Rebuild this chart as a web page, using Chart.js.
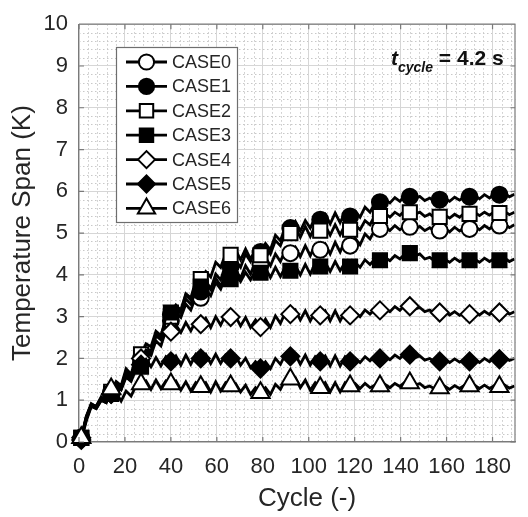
<!DOCTYPE html>
<html>
<head>
<meta charset="utf-8">
<script src="https://cdn.jsdelivr.net/npm/chart.js@4"></script>
<style>
  html, body { margin: 0; padding: 0; background: #fff; overflow: hidden; }
  canvas { display: block; }
</style>
</head>
<body>
<canvas id="myChart" width="528" height="517"></canvas>
<script>
// series labels
const caseLabels = ['CASE0', 'CASE1', 'CASE2', 'CASE3', 'CASE4', 'CASE5', 'CASE6'];

// sampling: one value every 13/6 cycle, starting at cycle 1; a marker every 6th point
const cycleStart = 1;
const cycleStep = 13 / 6;
const markerEvery = 6;

// temperature span (K)
const case0 = [
  0.1, 0.6, 0.88, 0.82, 1.02, 0.95,
  1.2, 1.42, 1.32, 1.7, 1.56, 1.95,
  2.0, 2.25, 2.18, 2.55, 2.45, 2.85,
  2.9, 3.1, 2.98, 3.3, 3.16, 3.48,
  3.45, 3.65, 3.5, 3.82, 3.66, 3.98,
  3.95, 4.12, 3.92, 4.22, 4.02, 4.32,
  4.25, 4.42, 4.22, 4.5, 4.32, 4.6,
  4.52, 4.66, 4.44, 4.7, 4.46, 4.72,
  4.6, 4.74, 4.5, 4.78, 4.55, 4.82,
  4.7, 4.88, 4.72, 4.98, 4.86, 5.08,
  5.1, 5.16, 5.06, 5.18, 5.08, 5.17,
  5.15, 5.1, 5.16, 5.06, 5.13, 5.04,
  5.06, 5.12, 5.03, 5.14, 5.05, 5.13,
  5.1, 5.16, 5.08, 5.18, 5.1, 5.2,
  5.18, 5.22, 5.13, 5.2
];
const case1 = [
  0.1, 0.62, 0.92, 0.84, 1.05, 0.98,
  1.2, 1.4, 1.28, 1.62, 1.5, 1.88,
  1.9, 2.2, 2.12, 2.55, 2.45, 2.95,
  3.05, 3.2, 3.08, 3.42, 3.3, 3.62,
  3.6, 3.8, 3.65, 4.02, 3.88, 4.25,
  4.2, 4.35, 4.18, 4.5, 4.32, 4.62,
  4.55, 4.75, 4.6, 4.95, 4.82, 5.15,
  5.12, 5.28, 5.05, 5.3, 5.12, 5.38,
  5.32, 5.45, 5.22, 5.48, 5.25, 5.5,
  5.4, 5.52, 5.38, 5.62, 5.5, 5.72,
  5.74, 5.8, 5.72, 5.85, 5.76, 5.9,
  5.87, 5.82, 5.88, 5.78, 5.84, 5.76,
  5.8, 5.84, 5.76, 5.86, 5.79, 5.88,
  5.87, 5.9, 5.82, 5.92, 5.84, 5.94,
  5.92, 5.96, 5.87, 5.93
];
const case2 = [
  0.1, 0.58, 0.9, 0.86, 1.08, 1.0,
  1.2, 1.45, 1.35, 1.75, 1.62, 2.05,
  2.1, 2.35, 2.28, 2.65, 2.55, 2.95,
  3.0, 3.25, 3.15, 3.55, 3.45, 3.85,
  3.9, 4.08, 3.95, 4.3, 4.18, 4.5,
  4.48, 4.6, 4.36, 4.62, 4.38, 4.6,
  4.47, 4.68, 4.5, 4.82, 4.7, 5.02,
  5.0, 5.14, 4.9, 5.16, 4.92, 5.18,
  5.06, 5.18, 4.95, 5.2, 4.96, 5.2,
  5.08, 5.2, 5.08, 5.3, 5.2, 5.42,
  5.41, 5.47, 5.38, 5.5, 5.42, 5.54,
  5.5, 5.45, 5.5, 5.4, 5.46, 5.36,
  5.39, 5.44, 5.36, 5.45, 5.38, 5.48,
  5.46, 5.5, 5.42, 5.5, 5.43, 5.51,
  5.48, 5.52, 5.44, 5.5
];
const case3 = [
  0.1, 0.55, 0.86, 0.8, 1.0, 0.94,
  1.15, 1.35, 1.25, 1.55, 1.45, 1.75,
  1.8, 2.15, 2.08, 2.6, 2.5, 3.0,
  3.1, 3.28, 3.15, 3.52, 3.4, 3.75,
  3.72, 3.85, 3.68, 3.92, 3.74, 3.98,
  3.9, 4.02, 3.84, 4.06, 3.88, 4.1,
  4.05, 4.16, 3.94, 4.18, 3.96, 4.2,
  4.1, 4.22, 4.0, 4.25, 4.02, 4.28,
  4.2, 4.3, 4.08, 4.32, 4.1, 4.3,
  4.2, 4.3, 4.18, 4.36, 4.25, 4.38,
  4.35, 4.42, 4.34, 4.46, 4.38, 4.5,
  4.52, 4.45, 4.5, 4.38, 4.42, 4.33,
  4.35, 4.38, 4.3, 4.4, 4.32, 4.38,
  4.35, 4.38, 4.3, 4.4, 4.32, 4.39,
  4.35, 4.4, 4.32, 4.38
];
const case4 = [
  0.1, 0.55, 0.88, 0.82, 1.02, 0.96,
  1.15, 1.4, 1.28, 1.65, 1.55, 1.95,
  2.0, 2.2, 2.08, 2.42, 2.3, 2.68,
  2.64, 2.8, 2.62, 2.86, 2.66, 2.9,
  2.82, 2.96, 2.74, 3.0, 2.8, 3.04,
  2.99, 3.0, 2.78, 2.98, 2.74, 2.92,
  2.75, 2.94, 2.74, 3.02, 2.84, 3.1,
  3.06, 3.16, 2.92, 3.14, 2.9, 3.12,
  3.03, 3.14, 2.9, 3.14, 2.9, 3.12,
  3.03, 3.1, 3.0, 3.16, 3.06, 3.18,
  3.15, 3.2, 3.12, 3.24, 3.15, 3.28,
  3.25, 3.18, 3.22, 3.12, 3.16, 3.08,
  3.1, 3.12, 3.04, 3.12, 3.03, 3.1,
  3.06, 3.12, 3.04, 3.13, 3.05, 3.14,
  3.1, 3.15, 3.06, 3.12
];
const case5 = [
  0.05, 0.5, 0.85, 0.8, 1.0, 0.94,
  1.15, 1.38, 1.26, 1.6, 1.48, 1.82,
  1.85, 1.98, 1.8, 2.02, 1.82, 2.04,
  1.93, 2.06, 1.84, 2.08, 1.86, 2.1,
  2.0, 2.1, 1.88, 2.1, 1.88, 2.08,
  2.0, 2.06, 1.84, 2.0, 1.78, 1.92,
  1.76, 1.92, 1.76, 2.0, 1.86, 2.1,
  2.05, 2.1, 1.86, 2.08, 1.84, 2.04,
  1.93, 2.06, 1.82, 2.06, 1.82, 2.04,
  1.93, 2.0, 1.9, 2.04, 1.94, 2.06,
  2.0, 2.05, 1.97, 2.08, 2.0, 2.12,
  2.09, 2.02, 2.06, 1.96, 2.0, 1.92,
  1.93, 1.98, 1.9, 1.99, 1.91, 1.98,
  1.93, 1.98, 1.9, 2.0, 1.92, 2.02,
  1.98, 2.03, 1.95, 2.0
];
const case6 = [
  0.1, 0.55, 0.9, 0.85, 1.05, 1.0,
  1.27, 1.18, 0.98, 1.22, 1.1, 1.35,
  1.39, 1.46, 1.26, 1.48, 1.28, 1.46,
  1.39, 1.46, 1.24, 1.44, 1.22, 1.42,
  1.32, 1.42, 1.2, 1.44, 1.22, 1.42,
  1.34, 1.4, 1.2, 1.36, 1.14, 1.3,
  1.18, 1.3, 1.14, 1.38, 1.26, 1.5,
  1.5, 1.54, 1.3, 1.48, 1.24, 1.42,
  1.3, 1.42, 1.2, 1.42, 1.2, 1.42,
  1.34, 1.4, 1.28, 1.4, 1.3, 1.36,
  1.34, 1.38, 1.3, 1.4, 1.33, 1.43,
  1.41, 1.36, 1.4, 1.3, 1.34, 1.27,
  1.29, 1.34, 1.26, 1.35, 1.28, 1.36,
  1.34, 1.36, 1.28, 1.36, 1.28, 1.35,
  1.32, 1.37, 1.29, 1.34
];
const allCases = [case0, case1, case2, case3, case4, case5, case6];

// axes
const xMin = 0, xMax = 190, xMinorStep = 4;
const xTicks = [0, 20, 40, 60, 80, 100, 120, 140, 160, 180];
const yMin = 0, yMax = 10, yMinorStep = 0.2;
const yTicks = [0, 1, 2, 3, 4, 5, 6, 7, 8, 9, 10];

const markerLook = [
  { style: 'circle', fill: '#ffffff', radius: 8 },
  { style: 'circle', fill: '#000000', radius: 8 },
  { style: 'rect', fill: '#ffffff', radius: 10 },
  { style: 'rect', fill: '#000000', radius: 10 },
  { style: 'rectRot', fill: '#ffffff', radius: 9 },
  { style: 'rectRot', fill: '#000000', radius: 9 },
  { style: 'triangle', fill: '#ffffff', radius: 10.5 }
];

const fontFamily = '"Liberation Sans", Arial, Helvetica, sans-serif';
const textColor = '#262626';
const axisColor = '#7a7a7a';

const datasets = allCases.map(function (values, i) {
  return {
    label: caseLabels[i],
    data: values.map(function (v, j) { return { x: cycleStart + j * cycleStep, y: v }; }),
    borderColor: '#000000',
    borderWidth: 2.8,
    tension: 0,
    clip: false,
    pointStyle: markerLook[i].style,
    pointBackgroundColor: markerLook[i].fill,
    pointBorderColor: '#000000',
    pointBorderWidth: 2,
    pointRadius: function (c) { return c.dataIndex % markerEvery === 0 ? markerLook[i].radius : 0; },
    pointHoverRadius: 0,
    order: 6 - i
  };
});

// white background + dotted minor grid
const minorGrid = {
  id: 'minorGrid',
  beforeDraw(chart) {
    const ctx = chart.ctx;
    const a = chart.chartArea;
    const sx = chart.scales.x, sy = chart.scales.y;
    ctx.save();
    ctx.fillStyle = '#ffffff';
    ctx.fillRect(0, 0, chart.width, chart.height);
    ctx.strokeStyle = '#c8c8c8';
    ctx.lineWidth = 1;
    ctx.setLineDash([1.5, 2.5]);
    for (let v = xMin + xMinorStep; v < xMax; v += xMinorStep) {
      if (xTicks.indexOf(v) >= 0) continue;
      const px = Math.round(sx.getPixelForValue(v)) + 0.5;
      ctx.beginPath(); ctx.moveTo(px, a.top); ctx.lineTo(px, a.bottom); ctx.stroke();
    }
    for (let k = 1; k < (yMax - yMin) / yMinorStep; k++) {
      if (k % 5 === 0) continue;
      const py = Math.round(sy.getPixelForValue(yMin + k * yMinorStep)) + 0.5;
      ctx.beginPath(); ctx.moveTo(a.left, py); ctx.lineTo(a.right, py); ctx.stroke();
    }
    ctx.restore();
  }
};

// box, inward ticks, titles, annotation and legend
const decorations = {
  id: 'decorations',
  afterDraw(chart) {
    const ctx = chart.ctx;
    const a = chart.chartArea;
    const sx = chart.scales.x, sy = chart.scales.y;
    ctx.save();
    ctx.strokeStyle = axisColor;
    ctx.lineWidth = 1.2;
    ctx.beginPath();
    ctx.moveTo(a.left, a.top); ctx.lineTo(a.right, a.top);
    ctx.moveTo(a.right - 0.5, a.top); ctx.lineTo(a.right - 0.5, a.bottom);
    xTicks.forEach(function (v) {
      const px = sx.getPixelForValue(v);
      ctx.moveTo(px, a.bottom); ctx.lineTo(px, a.bottom - 5);
      ctx.moveTo(px, a.top); ctx.lineTo(px, a.top + 5);
    });
    yTicks.forEach(function (v) {
      const py = sy.getPixelForValue(v);
      ctx.moveTo(a.left, py); ctx.lineTo(a.left + 5, py);
      ctx.moveTo(a.right, py); ctx.lineTo(a.right - 5, py);
    });
    ctx.stroke();

    // axis titles
    ctx.fillStyle = textColor;
    ctx.font = '26px ' + fontFamily;
    ctx.textAlign = 'center';
    ctx.textBaseline = 'middle';
    ctx.fillText('Cycle (-)', 307, 499);
    ctx.save();
    ctx.translate(23, (a.top + a.bottom) / 2);
    ctx.rotate(-Math.PI / 2);
    ctx.fillText('Temperature Span (K)', 0, 0);
    ctx.restore();

    // t_cycle annotation
    ctx.textAlign = 'left';
    ctx.textBaseline = 'alphabetic';
    ctx.fillStyle = '#111111';
    let tx = 391;
    ctx.font = 'italic bold 21px ' + fontFamily;
    ctx.fillText('t', tx, 65);
    tx += ctx.measureText('t').width;
    ctx.font = 'italic bold 14px ' + fontFamily;
    ctx.fillText('cycle', tx, 72);
    tx += ctx.measureText('cycle').width;
    ctx.font = 'bold 21px ' + fontFamily;
    ctx.fillText(' = 4.2 s', tx, 65);

    // legend
    const box = { left: 116, top: 47, width: 121, height: 175 };
    ctx.fillStyle = '#ffffff';
    ctx.fillRect(box.left, box.top, box.width, box.height);
    ctx.strokeStyle = '#6e6e6e';
    ctx.lineWidth = 1.2;
    ctx.strokeRect(box.left + 0.5, box.top + 0.5, box.width, box.height);
    ctx.font = '18px ' + fontFamily;
    ctx.textBaseline = 'middle';
    chart.data.datasets.forEach(function (ds, i) {
      const y = 62 + i * 24.4;
      ctx.strokeStyle = '#000000';
      ctx.lineWidth = 2.8;
      ctx.beginPath(); ctx.moveTo(126, y); ctx.lineTo(167, y); ctx.stroke();
      ctx.fillStyle = markerLook[i].fill;
      ctx.strokeStyle = '#000000';
      ctx.lineWidth = 2;
      Chart.helpers.drawPoint(ctx, { pointStyle: markerLook[i].style, radius: markerLook[i].radius * 0.95, borderWidth: 2, rotation: 0 }, 146.5, y);
      ctx.fillStyle = textColor;
      ctx.fillText(ds.label, 172, y + 1);
    });
    ctx.restore();
  }
};

new Chart(document.getElementById('myChart'), {
  type: 'line',
  data: { datasets: datasets },
  options: {
    responsive: false,
    animation: false,
    events: [],
    layout: { padding: { top: 17, left: 0, right: 0, bottom: 0 } },
    plugins: { legend: { display: false }, tooltip: { enabled: false } },
    scales: {
      x: {
        type: 'linear',
        min: xMin,
        max: xMax,
        afterFit(scale) { scale.height = 75; },
        afterBuildTicks(scale) {
          scale.ticks = xTicks.map(function (v) { return { value: v }; });
        },
        ticks: { autoSkip: false, color: textColor, padding: 12, maxRotation: 0, font: { family: fontFamily, size: 22 } },
        grid: { color: '#d6d6d6', lineWidth: 1, drawTicks: false },
        border: { display: true, color: axisColor, width: 1.2 }
      },
      y: {
        min: yMin,
        max: yMax,
        afterFit(scale) { scale.width = 79; },
        afterBuildTicks(scale) {
          scale.ticks = yTicks.map(function (v) { return { value: v }; });
        },
        ticks: { autoSkip: false, color: textColor, padding: 11, font: { family: fontFamily, size: 22 } },
        grid: { color: '#d6d6d6', lineWidth: 1, drawTicks: false },
        border: { display: true, color: axisColor, width: 1.2 }
      }
    }
  },
  plugins: [minorGrid, decorations]
});
</script>
</body>
</html>
